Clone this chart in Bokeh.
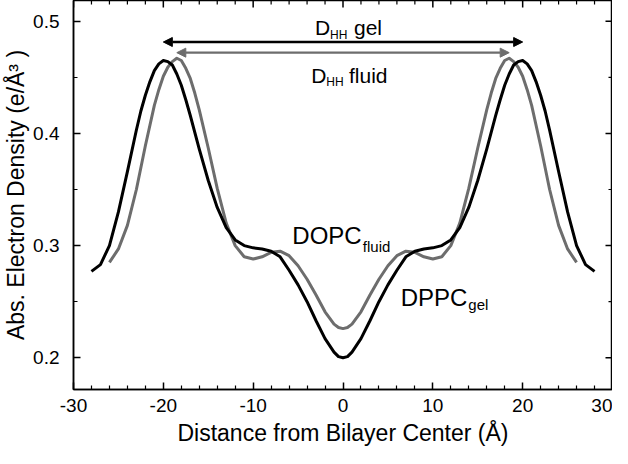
import numpy as np
from bokeh.plotting import figure
from bokeh.models import Range1d, FixedTicker, Arrow, NormalHead, Label
from bokeh.embed import file_html
from bokeh.resources import INLINE

# ---------------- data ----------------
x_gel = [-28, -27, -26, -25, -24, -23, -22.5, -22, -21.5, -21, -20.5, -20, -19.5, -19,
         -18.5, -18, -17.5, -17, -16, -15, -14, -13, -12, -11, -10, -9, -8, -7, -6, -5,
         -4, -3, -2, -1, -0.5, 0, 0.5, 1, 2, 3, 4, 5, 6, 7, 8, 9, 10, 11, 12, 13, 14, 15,
         16, 17, 17.5, 18, 18.5, 19, 19.5, 20, 20.5, 21, 21.5, 22, 22.5, 23, 24, 25, 26,
         27, 28]
dens_dppc_gel = [0.277, 0.283, 0.300, 0.330, 0.366, 0.403, 0.420, 0.434, 0.446, 0.456,
                 0.462, 0.465, 0.464, 0.461, 0.453, 0.443, 0.430, 0.416, 0.386, 0.358,
                 0.334, 0.316, 0.305, 0.300, 0.298, 0.297, 0.295, 0.290, 0.278, 0.265,
                 0.250, 0.233, 0.217, 0.205, 0.201, 0.200, 0.201, 0.205, 0.217, 0.233,
                 0.250, 0.265, 0.278, 0.290, 0.295, 0.297, 0.298, 0.300, 0.305, 0.316,
                 0.334, 0.358, 0.386, 0.416, 0.430, 0.443, 0.453, 0.461, 0.464, 0.465,
                 0.462, 0.456, 0.446, 0.434, 0.420, 0.403, 0.366, 0.330, 0.300, 0.283,
                 0.277]

x_fluid = [-26, -25, -24, -23, -22, -21, -20.5, -20, -19.5, -19, -18.5, -18, -17.5, -17,
           -16.5, -16, -15, -14, -13, -12, -11, -10, -9, -8, -7, -6, -5, -4, -3, -2, -1,
           -0.5, 0, 0.5, 1, 2, 3, 4, 5, 6, 7, 8, 9, 10, 11, 12, 13, 14, 15, 16, 16.5, 17,
           17.5, 18, 18.5, 19, 19.5, 20, 20.5, 21, 22, 23, 24, 25, 26]
dens_dopc_fluid = [0.285, 0.297, 0.318, 0.350, 0.389, 0.425, 0.439, 0.451, 0.459, 0.464,
                   0.467, 0.465, 0.458, 0.449, 0.436, 0.421, 0.387, 0.351, 0.320, 0.300,
                   0.290, 0.288, 0.290, 0.294, 0.295, 0.291, 0.282, 0.270, 0.256, 0.241,
                   0.230, 0.227, 0.226, 0.227, 0.230, 0.241, 0.256, 0.270, 0.282, 0.291,
                   0.295, 0.294, 0.290, 0.288, 0.290, 0.300, 0.320, 0.351, 0.387, 0.421,
                   0.436, 0.449, 0.458, 0.465, 0.467, 0.464, 0.459, 0.451, 0.439, 0.425,
                   0.389, 0.350, 0.318, 0.297, 0.285]

x_ticks = [-30, -20, -10, 0, 10, 20, 30]
x_tick_labels = ["-30", "-20", "-10", "0", "10", "20", "30"]
x_minor_ticks = [-28, -26, -24, -22, -18, -16, -14, -12, -8, -6, -4, -2,
                 2, 4, 6, 8, 12, 14, 16, 18, 22, 24, 26, 28]
y_ticks = [0.2, 0.3, 0.4, 0.5]
y_tick_labels = ["0.2", "0.3", "0.4", "0.5"]
y_minor_ticks = [0.25, 0.35, 0.45]

arrow_gel_level = 0.4815
arrow_fluid_level = 0.472

FONT = "Liberation Sans"
GRAY = "#6d6d6d"
X0, X1 = -30, 30
Y0, Y1 = 0.1717, 0.5185

# ---------------- figure ----------------
p = figure(width=612, height=448, x_range=Range1d(X0, X1), y_range=Range1d(Y0, Y1),
           output_backend="svg", toolbar_location=None,
           min_border_left=65, min_border_right=0, min_border_top=0, min_border_bottom=58)
p.xgrid.visible = False
p.ygrid.visible = False
p.outline_line_color = "black"
p.outline_line_width = 1.5
p.background_fill_color = "white"
p.border_fill_color = "white"

xt = FixedTicker(ticks=x_ticks, minor_ticks=x_minor_ticks)
yt = FixedTicker(ticks=y_ticks, minor_ticks=y_minor_ticks)


def style_axis(ax):
    ax.axis_line_width = 1.5
    ax.major_tick_in = 7
    ax.major_tick_out = 0
    ax.minor_tick_in = 4
    ax.minor_tick_out = 0
    ax.major_tick_line_width = 1.5
    ax.minor_tick_line_width = 1.2
    ax.major_label_text_font = FONT
    ax.axis_label_text_font = FONT
    ax.axis_label_text_font_style = "normal"
    ax.major_label_text_color = "black"
    ax.axis_label_text_color = "black"


xa = p.xaxis[0]
xa.ticker = xt
xa.major_label_overrides = {t: l for t, l in zip(x_ticks, x_tick_labels)}
style_axis(xa)
xa.major_label_text_font_size = "19px"
xa.major_label_standoff = 9
xa.axis_label = "Distance from Bilayer Center (Å)"
xa.axis_label_text_font_size = "23px"
xa.axis_label_standoff = 5

ya = p.yaxis[0]
ya.ticker = yt
ya.major_label_overrides = {t: l for t, l in zip(y_ticks, y_tick_labels)}
style_axis(ya)
ya.major_label_text_font_size = "19px"
ya.major_label_standoff = 14
ya.axis_label = "Abs. Electron Density (e/Å³ )"
ya.axis_label_text_font_size = "23px"
ya.axis_label_standoff = 1

# inward ticks on the right and top edges (markers centred on the frame edge,
# the outer half is clipped by the frame)
p.scatter([X1] * len(y_ticks), y_ticks, marker="dash", size=14, line_width=1.5,
          line_color="black")
p.scatter([X1] * len(y_minor_ticks), y_minor_ticks, marker="dash", size=8, line_width=1.2,
          line_color="black")
p.scatter(x_ticks, [Y1] * len(x_ticks), marker="dash", angle=np.pi / 2, size=14,
          line_width=1.5, line_color="black")
p.scatter(x_minor_ticks, [Y1] * len(x_minor_ticks), marker="dash", angle=np.pi / 2, size=8,
          line_width=1.2, line_color="black")

# curves
p.line(x_fluid, dens_dopc_fluid, line_color=GRAY, line_width=3, line_join="round")
p.line(x_gel, dens_dppc_gel, line_color="black", line_width=3, line_join="round")


# D_HH arrows between the head-group peaks
def peaks(xs, ys):
    xs = np.asarray(xs, float)
    ys = np.asarray(ys, float)
    left = xs < 0
    return xs[left][np.argmax(ys[left])], xs[~left][np.argmax(ys[~left])]


gl, gr = peaks(x_gel, dens_dppc_gel)
fl, fr = peaks(x_fluid, dens_dopc_fluid)
for (a, b, lvl, col, lw) in [(gl, gr, arrow_gel_level, "black", 2.5),
                              (fl, fr, arrow_fluid_level, GRAY, 2.2)]:
    p.add_layout(Arrow(start=NormalHead(size=9, fill_color=col, line_color=col),
                       end=NormalHead(size=9, fill_color=col, line_color=col),
                       x_start=a, y_start=lvl, x_end=b, y_end=lvl,
                       line_color=col, line_width=lw))


def lab(x, y, text, size):
    p.add_layout(Label(x=x, y=y, text=text, text_font=FONT, text_font_size=size,
                       text_baseline="alphabetic", text_align="left", text_color="black"))


lab(-3.13, 0.494, "D", "21px")
lab(-1.45, 0.488, "HH", "12px")
lab(1.22, 0.494, "gel", "21px")

lab(-3.54, 0.4515, "D", "21px")
lab(-1.86, 0.4455, "HH", "12px")
lab(0.67, 0.4515, "fluid", "21px")

lab(-5.64, 0.3094, "DOPC", "24px")
lab(2.21, 0.2988, "fluid", "15px")
lab(6.42, 0.2538, "DPPC", "24px")
lab(13.95, 0.2476, "gel", "15px")

open("out.html", "w").write(file_html(p, INLINE))
